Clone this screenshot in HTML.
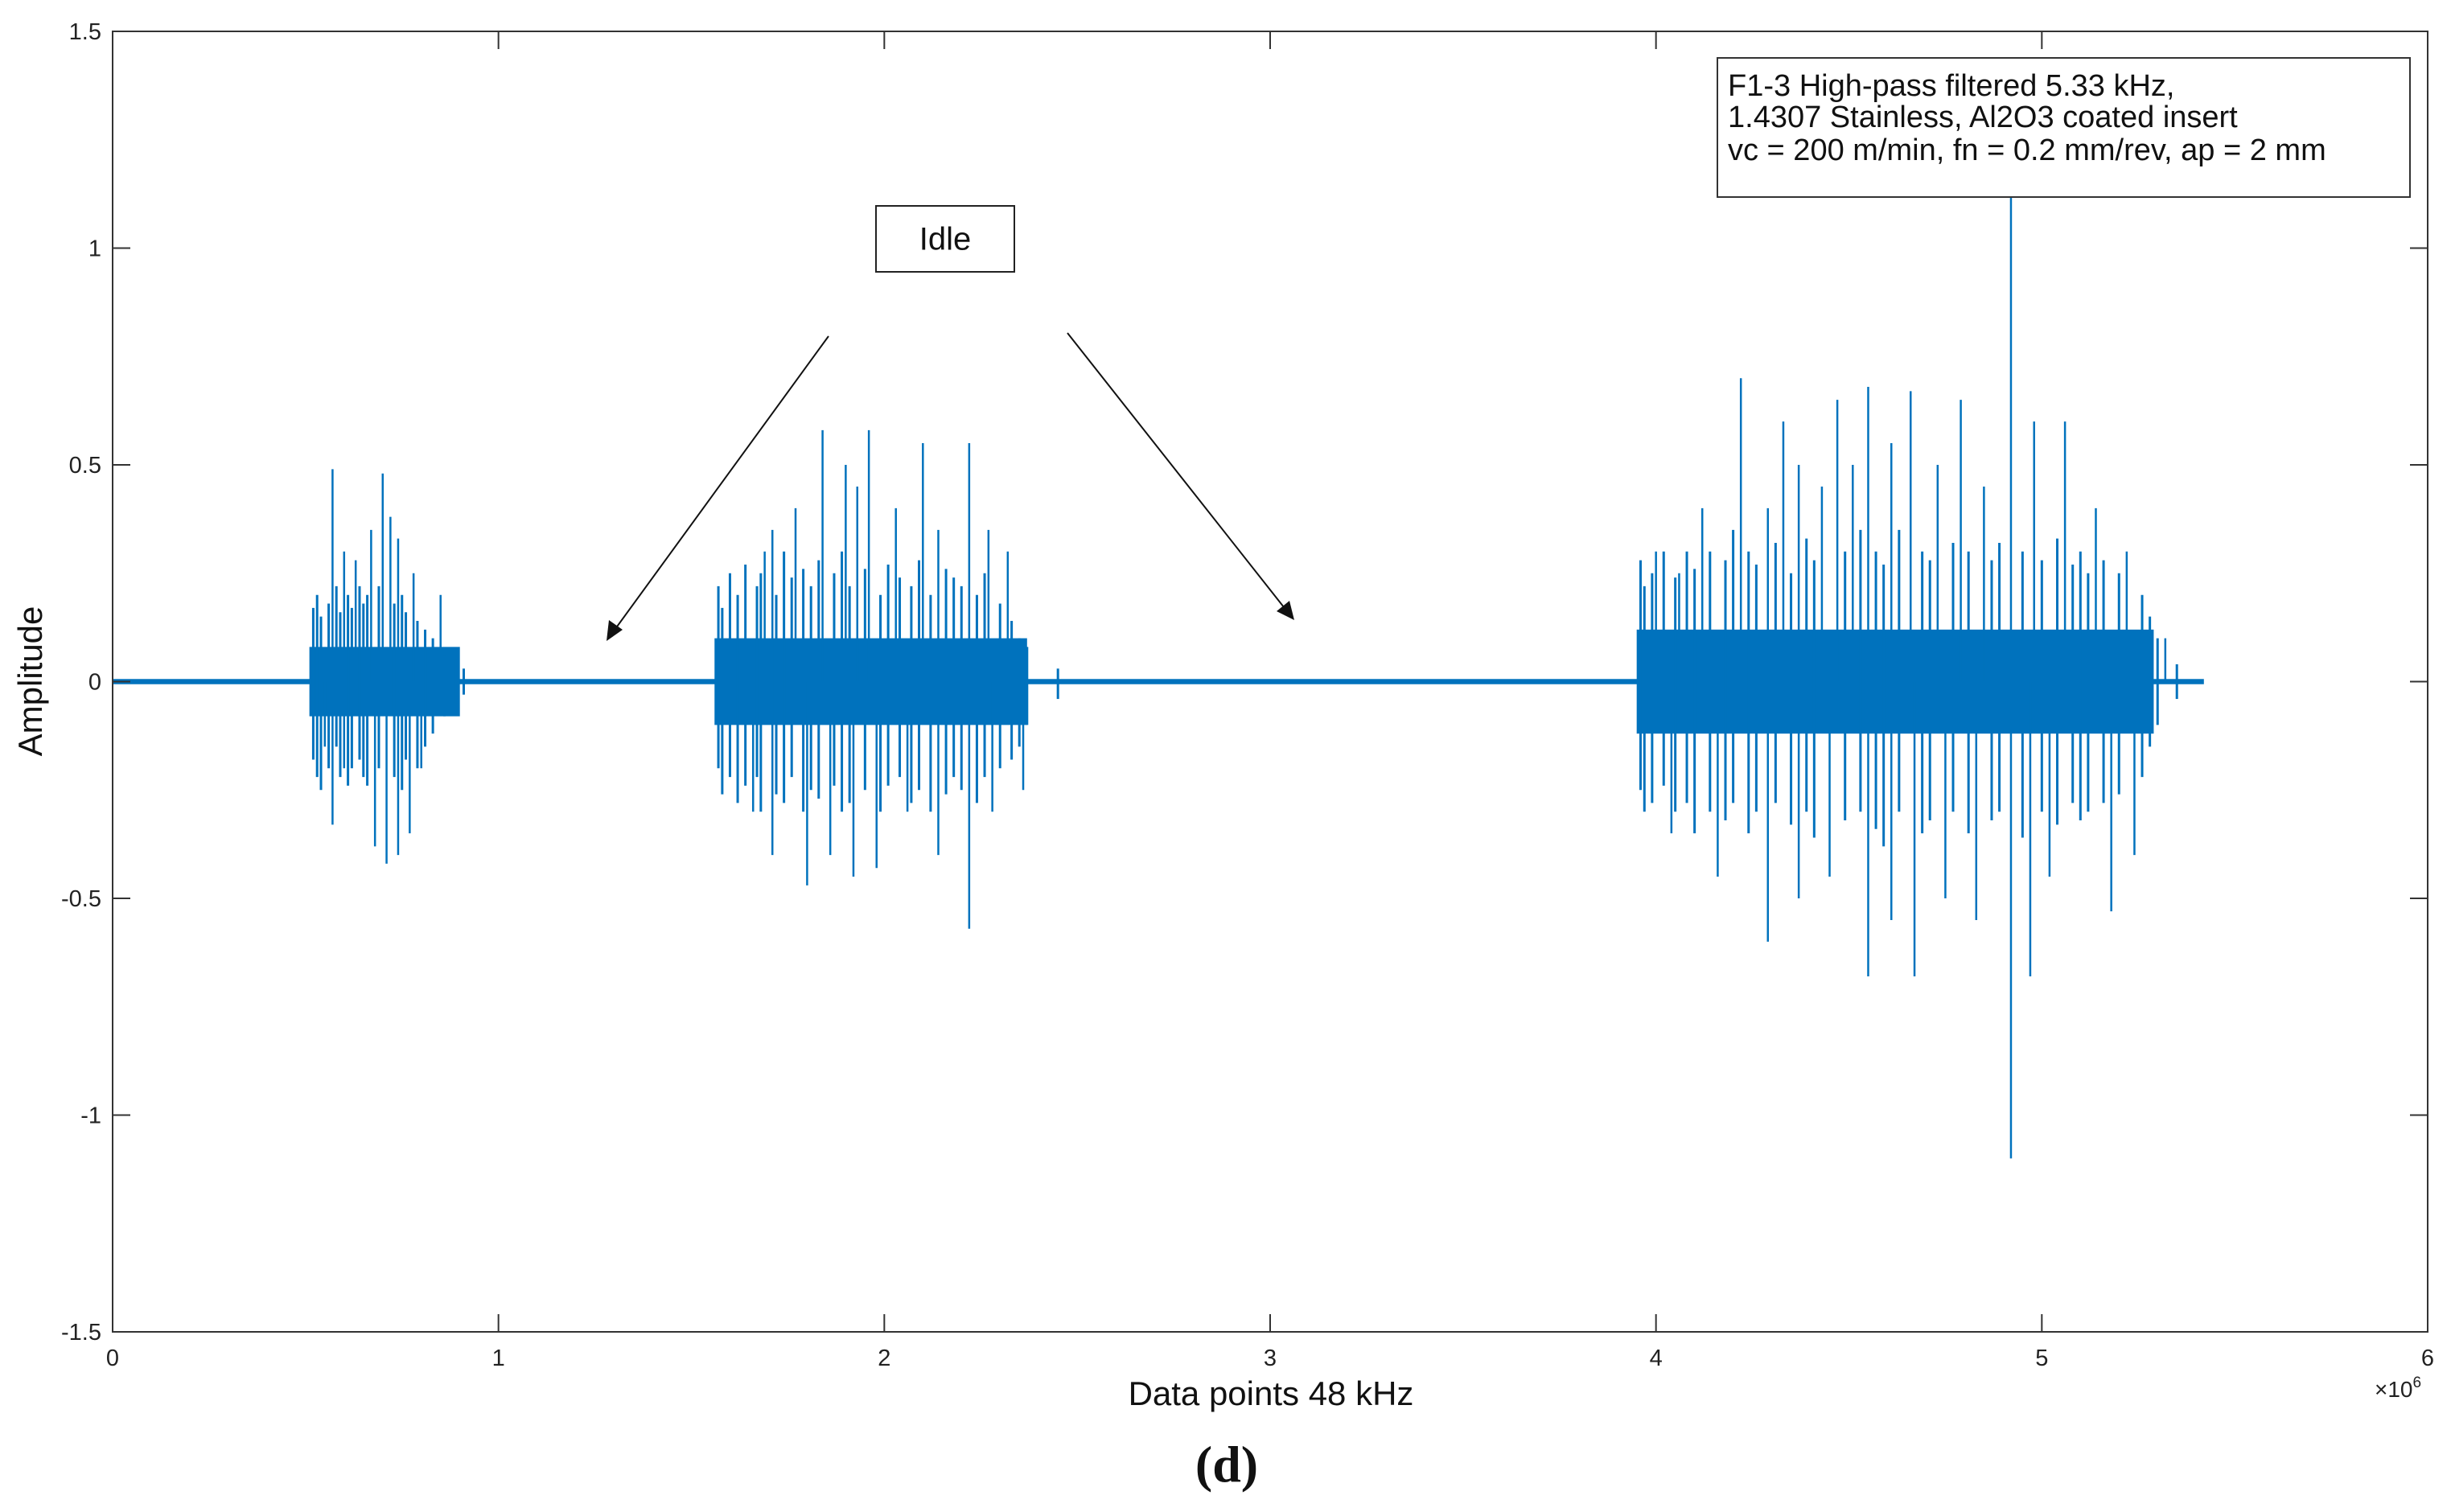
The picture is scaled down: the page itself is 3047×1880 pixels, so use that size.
<!DOCTYPE html>
<html><head><meta charset="utf-8"><style>
html,body{margin:0;padding:0;background:#fff;}
svg{display:block;font-family:"Liberation Sans",sans-serif;}
</style></head><body>
<svg id="chart" width="3047" height="1880" viewBox="0 0 3047 1880" xmlns="http://www.w3.org/2000/svg">
<rect width="3047" height="1880" fill="#fff"/>
<g id="plot"></g>
<g id="axes"></g>
<g>
<rect x="1089" y="256" width="172" height="82" fill="#fff" stroke="#222" stroke-width="2"/>
<text x="1175" y="300" font-size="40" text-anchor="middle" dominant-baseline="middle" fill="#111">Idle</text>
<line x1="1030" y1="418" x2="762" y2="786" stroke="#111" stroke-width="2"/>
<polygon points="754,797 757,771 774,783" fill="#111"/>
<line x1="1327" y1="414" x2="1600" y2="760" stroke="#111" stroke-width="2"/>
<polygon points="1609,771 1587,760 1603,747" fill="#111"/>
</g>
<g>
<rect x="2135" y="72" width="861" height="173" fill="#fff" stroke="#333" stroke-width="2"/>
<text x="2148" y="119" font-size="38" fill="#111">F1-3 High-pass filtered 5.33 kHz,</text>
<text x="2148" y="158" font-size="38" fill="#111">1.4307 Stainless, Al2O3 coated insert</text>
<text x="2148" y="199" font-size="38" fill="#111">vc = 200 m/min, fn = 0.2 mm/rev, ap = 2 mm</text>
</g>
<text x="1580" y="1747" font-size="42" text-anchor="middle" fill="#111">Data points 48 kHz</text>
<text transform="translate(52,847) rotate(-90)" font-size="42" text-anchor="middle" fill="#111">Amplitude</text>
<text x="2952" y="1737" font-size="28" fill="#222">×10<tspan dy="-12" font-size="19">6</tspan></text>
<text x="1525" y="1842" font-size="64" font-weight="bold" text-anchor="middle" font-family="Liberation Serif, serif" fill="#111">(d)</text>
</svg>
<script>
const xTicks=[0,1,2,3,4,5,6];
const yTicks=[-1.5,-1,-0.5,0,0.5,1,1.5];
const yTickLabels=["-1.5","-1","-0.5","0","0.5","1","1.5"];
// bursts: start, end (x1e6), dense band amplitude
const burstStart=[0.51,1.56,3.95];
const burstEnd=[0.9,2.37,5.29];
const burstBand=[0.08,0.1,0.12];
const idleStart=0.0, idleEnd=5.42, idleAmp=0.006;
const spikeX=[0.57,0.60,0.63,0.67,0.70,0.72,0.74,0.78,0.85,
1.69,1.71,1.77,1.84,1.90,1.93,1.96,2.03,2.10,2.14,2.22,2.27,2.32,
4.00,4.06,4.12,4.22,4.29,4.33,4.37,4.43,4.47,4.51,4.55,4.61,4.66,4.73,4.79,4.85,4.92,4.98,5.06,5.14,5.22,5.32,
0.55,0.57,0.60,0.68,0.71,0.74,0.77,0.80,
1.66,1.71,1.80,1.86,1.92,1.98,2.06,2.14,2.22,2.28,2.36,
4.04,4.16,4.29,4.37,4.45,4.55,4.61,4.67,4.75,4.83,4.92,4.97,5.02,5.18,5.24];
const spikeY=[0.49,0.30,0.28,0.35,0.48,0.38,0.33,0.25,0.20,
0.30,0.35,0.40,0.58,0.50,0.45,0.58,0.40,0.55,0.35,0.55,0.35,0.30,
0.30,0.25,0.40,0.70,0.40,0.60,0.50,0.45,0.65,0.50,0.68,0.55,0.67,0.50,0.65,0.45,1.12,0.60,0.60,0.40,0.30,0.10,
-0.15,-0.33,-0.20,-0.38,-0.42,-0.40,-0.35,-0.20,
-0.30,-0.40,-0.47,-0.40,-0.45,-0.43,-0.30,-0.40,-0.57,-0.30,-0.25,
-0.35,-0.45,-0.60,-0.50,-0.45,-0.68,-0.55,-0.68,-0.50,-0.55,-1.10,-0.68,-0.45,-0.53,-0.40];
// medium-amplitude texture inside bursts (read approx.)
const midX=[0.52,0.53,0.54,0.56,0.58,0.59,0.61,0.62,0.64,0.65,0.66,0.69,0.73,0.75,0.76,0.79,0.81,0.83,0.86,0.89,0.91,
1.57,1.58,1.60,1.62,1.64,1.67,1.68,1.72,1.74,1.76,1.79,1.81,1.83,1.87,1.89,1.91,1.95,1.99,2.01,2.04,2.07,2.09,2.12,2.16,2.18,2.20,2.24,2.26,2.30,2.33,2.35,2.37,2.45,
3.96,3.97,3.99,4.02,4.05,4.08,4.10,4.14,4.18,4.20,4.24,4.26,4.31,4.35,4.39,4.41,4.49,4.53,4.57,4.59,4.63,4.69,4.71,4.77,4.81,4.87,4.89,4.95,5.00,5.04,5.08,5.10,5.12,5.16,5.20,5.26,5.28,5.30,5.35];
const midTop=[0.17,0.2,0.15,0.18,0.22,0.16,0.2,0.17,0.22,0.18,0.2,0.22,0.18,0.2,0.16,0.14,0.12,0.1,0.06,0.05,0.03,
0.22,0.17,0.25,0.2,0.27,0.22,0.25,0.2,0.3,0.24,0.26,0.22,0.28,0.25,0.3,0.22,0.26,0.2,0.27,0.24,0.22,0.28,0.2,0.26,0.24,0.22,0.2,0.25,0.18,0.14,0.1,0.08,0.03,
0.28,0.22,0.25,0.3,0.24,0.3,0.26,0.3,0.28,0.35,0.3,0.27,0.32,0.25,0.33,0.28,0.3,0.35,0.3,0.27,0.35,0.3,0.28,0.32,0.3,0.28,0.32,0.3,0.28,0.33,0.27,0.3,0.25,0.28,0.25,0.2,0.15,0.1,0.04];
const midBot=[-0.18,-0.22,-0.25,-0.2,-0.15,-0.22,-0.24,-0.2,-0.18,-0.22,-0.24,-0.2,-0.22,-0.25,-0.18,-0.2,-0.15,-0.12,-0.08,-0.05,-0.03,
-0.2,-0.26,-0.22,-0.28,-0.24,-0.22,-0.3,-0.26,-0.28,-0.22,-0.3,-0.25,-0.27,-0.24,-0.3,-0.28,-0.25,-0.3,-0.24,-0.22,-0.28,-0.25,-0.3,-0.26,-0.22,-0.25,-0.28,-0.22,-0.2,-0.18,-0.15,-0.1,-0.04,
-0.25,-0.3,-0.28,-0.24,-0.3,-0.28,-0.35,-0.3,-0.32,-0.28,-0.35,-0.3,-0.28,-0.33,-0.3,-0.36,-0.32,-0.3,-0.34,-0.38,-0.3,-0.35,-0.32,-0.3,-0.35,-0.32,-0.3,-0.36,-0.3,-0.33,-0.28,-0.32,-0.3,-0.28,-0.26,-0.22,-0.15,-0.1,-0.04];
const L=140,R=3018,T=39,B=1656;
const xS=v=>L+(v-0)/(6-0)*(R-L);
const yS=v=>B-(v+1.5)/3*(B-T);
const NS="http://www.w3.org/2000/svg";
const plot=document.getElementById('plot'),axes=document.getElementById('axes');
function mk(tag,attrs,parent){const e=document.createElementNS(NS,tag);for(const k in attrs)e.setAttribute(k,attrs[k]);parent.appendChild(e);return e;}
const col="#0072BD";
let e=mk('rect',{x:xS(idleStart),y:yS(idleAmp),width:xS(idleEnd)-xS(idleStart),height:yS(-idleAmp)-yS(idleAmp),fill:col},plot);


for(let i=0;i<burstStart.length;i++){
 const b=mk('rect',{x:xS(burstStart[i]),y:yS(burstBand[i]),width:xS(burstEnd[i])-xS(burstStart[i]),height:yS(-burstBand[i])-yS(burstBand[i]),fill:col},plot);
 
 
}
for(let i=0;i<midX.length;i++){
 const s=mk('line',{x1:xS(midX[i]),x2:xS(midX[i]),y1:yS(midTop[i]),y2:yS(midBot[i]),stroke:col,'stroke-width':3},plot);
 
 
}
for(let i=0;i<spikeX.length;i++){
 const s=mk('line',{x1:xS(spikeX[i]),x2:xS(spikeX[i]),y1:yS(0),y2:yS(spikeY[i]),stroke:col,'stroke-width':2.5},plot);
 
 
}
const f=mk('rect',{x:L,y:T,width:R-L,height:B-T,fill:'none',stroke:'#333','stroke-width':2},axes);


xTicks.forEach(v=>{
 const x=xS(v);
 mk('line',{x1:x,x2:x,y1:B,y2:B-22,stroke:'#333','stroke-width':2},axes);
 mk('line',{x1:x,x2:x,y1:T,y2:T+22,stroke:'#333','stroke-width':2},axes);
 const t=mk('text',{x:x,y:B+42,'font-size':29,'text-anchor':'middle',fill:'#222'},axes);
 t.textContent=String(v);
 
 
});
yTicks.forEach((v,i)=>{
 const y=yS(v);
 mk('line',{x1:L,x2:L+22,y1:y,y2:y,stroke:'#333','stroke-width':2},axes);
 mk('line',{x1:R,x2:R-22,y1:y,y2:y,stroke:'#333','stroke-width':2},axes);
 const t=mk('text',{x:L-14,y:y+10,'font-size':29,'text-anchor':'end',fill:'#222'},axes);
 t.textContent=yTickLabels[i];
 
 
});
</script>
</body></html>
